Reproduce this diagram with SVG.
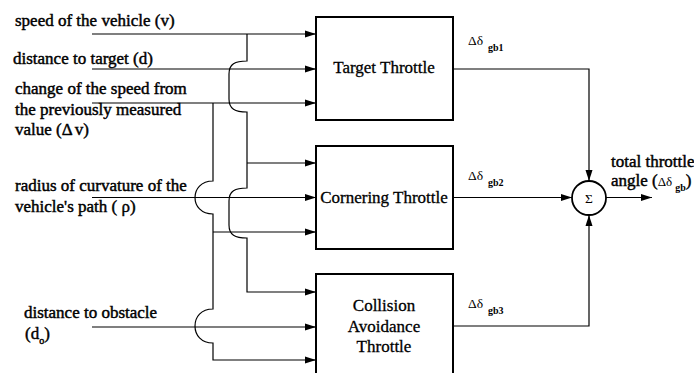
<svg xmlns="http://www.w3.org/2000/svg" width="694" height="373" viewBox="0 0 694 373">
<style>
.lbl{font-family:"Liberation Serif","Times New Roman",serif;font-size:17px;fill:#000;stroke:#000;stroke-width:0.45px}
.box{fill:#fff;stroke:#000;stroke-width:2}
.bt{font-family:"Liberation Serif","Times New Roman",serif;font-size:17px;fill:#000;stroke:#000;stroke-width:0.3px;text-anchor:middle}
.sig{font-family:"Liberation Serif","Times New Roman",serif;font-size:13.5px;fill:#000}
.sub{font-family:"Liberation Serif","Times New Roman",serif;font-size:10px;font-weight:bold;fill:#000}
.ln{fill:none;stroke:#000;stroke-width:1.2}
</style>
<defs>
<marker id="ah" markerWidth="12" markerHeight="8" refX="11" refY="4" orient="auto" markerUnits="userSpaceOnUse">
<path d="M0,0.5 L11,4 L0,7.5 Z" fill="#000"/>
</marker>
</defs>
<rect width="694" height="373" fill="#fff"/>

<g id="input-labels">
<text class="lbl" x="15" y="26">speed of the vehicle (v)</text>
<text class="lbl" x="13" y="64">distance to target (d)</text>
<text class="lbl" x="15" y="94">change of the speed from</text>
<text class="lbl" x="15" y="114.5">the previously measured</text>
<text class="lbl" x="15" y="135">value (Δ<tspan dx="2">v)</tspan></text>
<text class="lbl" x="15" y="191">radius of curvature of the</text>
<text class="lbl" x="15" y="212">vehicle's path ( ρ)</text>
<text class="lbl" x="24" y="318">distance to obstacle</text>
<text class="lbl" x="25" y="339">(d<tspan font-size="10" dy="5">o</tspan><tspan dy="-5">)</tspan></text>
</g>

<g id="connectors">
<path class="ln" d="M92,34 H316" marker-end="url(#ah)"/>
<path class="ln" d="M92,69 H316" marker-end="url(#ah)"/>
<path class="ln" d="M92,103 H316" marker-end="url(#ah)"/>
<path class="ln" d="M92,197.5 H316" marker-end="url(#ah)"/>
<path class="ln" d="M92,327 H316" marker-end="url(#ah)"/>
<path class="ln" d="M247,34 V61 C235,61 229,64 229,74 V99 C229,109 235,112 247,112 V188 C235,188 229,191 229,201 V225 C229,235 235,238 247,238 V292 H316" marker-end="url(#ah)"/>
<path class="ln" d="M247,163 H316" marker-end="url(#ah)"/>
<path class="ln" d="M213,103 V181 C201,181 195,189 195,197.5 C195,206 201,214 213,214 V309 C201,309 195,317 195,326 C195,335 201,343 213,343 V360 H316" marker-end="url(#ah)"/>
<path class="ln" d="M213,232 H316" marker-end="url(#ah)"/>
<path class="ln" d="M454,69 H589 V181" marker-end="url(#ah)"/>
<path class="ln" d="M454,197.5 H572" marker-end="url(#ah)"/>
<path class="ln" d="M454,326 H589 V215" marker-end="url(#ah)"/>
<path class="ln" d="M606,197.5 H652" marker-end="url(#ah)"/>
</g>

<g id="target-throttle">
<rect class="box" x="316" y="17" width="137" height="103"/>
<text class="bt" x="384" y="73">Target Throttle</text>
</g>
<g id="cornering-throttle">
<rect class="box" x="316" y="146" width="137" height="103"/>
<text class="bt" x="384" y="203">Cornering Throttle</text>
</g>
<g id="collision-avoidance-throttle">
<rect class="box" x="316" y="274" width="137" height="104"/>
<text class="bt" x="384" y="311">Collision</text>
<text class="bt" x="384" y="331.5">Avoidance</text>
<text class="bt" x="384" y="352">Throttle</text>
</g>
<g id="sum">
<circle cx="589" cy="198" r="17" fill="#fff" stroke="#000" stroke-width="1.8"/>
<text class="sig" x="589" y="203" text-anchor="middle">Σ</text>
</g>

<g id="output-labels">
<text class="sig" x="468" y="45">Δδ<tspan class="sub" dx="5" dy="6">gb1</tspan></text>
<text class="sig" x="468" y="180">Δδ<tspan class="sub" dx="5" dy="6">gb2</tspan></text>
<text class="sig" x="468" y="308">Δδ<tspan class="sub" dx="5" dy="6">gb3</tspan></text>
<text class="lbl" x="611" y="167" font-size="16">total throttle</text>
<text class="lbl" x="611" y="186" font-size="16">angle (<tspan stroke-width="0" font-size="13">Δδ</tspan><tspan class="sub" stroke-width="0" dx="3" dy="5">gb</tspan><tspan dy="-5">)</tspan></text>
</g>
</svg>
